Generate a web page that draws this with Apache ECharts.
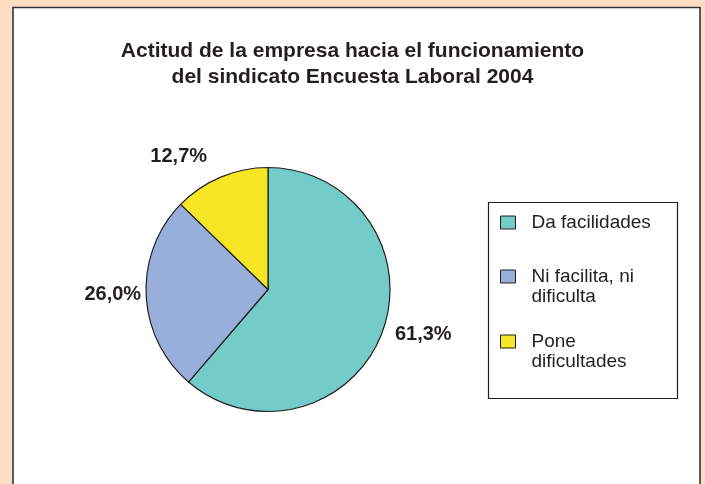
<!DOCTYPE html>
<html>
<head>
<meta charset="utf-8">
<style>
  html, body { margin: 0; padding: 0; background: #fddcc4; }
  #chart { width: 705px; height: 484px; }
</style>
<script src="https://cdn.jsdelivr.net/npm/echarts@6/dist/echarts.min.js"></script>
</head>
<body>
<div id="chart"></div>
<script>
// Survey answers: how the company treats the union's work
const categories = ['Da facilidades', 'Ni facilita, ni dificulta', 'Pone dificultades'];
const shares = [61.3, 26.0, 12.7];
// legend texts split over lines as printed in the key
const legendLines = [['Da facilidades'], ['Ni facilita, ni', 'dificulta'], ['Pone', 'dificultades']];

const sliceColors = ['#74ccc9', '#97afda', '#f7e626'];
const ink = '#231f20';
const font = 'Liberation Sans, Arial, Helvetica, sans-serif';
// how far past the rim each percentage sits
const labelReach = [8, 0, 22];
// top of each legend entry inside the key box
const legendTops = [212.5, 246.5, 311.5];

const pctText = v => v.toFixed(1).replace('.', ',') + '%';

const chart = echarts.init(document.getElementById('chart'), null, { renderer: 'canvas' });

const legends = categories.map((name, i) => ({
  data: [name],
  orient: 'vertical',
  left: 500,
  top: legendTops[i],
  padding: 0,
  selectedMode: false,
  icon: 'rect',
  itemWidth: 15,
  itemHeight: 13,
  itemStyle: { borderColor: ink, borderWidth: 1 },
  formatter: () => (legendLines[i].length > 1 ? '\n' : '') + legendLines[i].join('\n'),
  textStyle: { fontFamily: font, fontSize: 19, lineHeight: 20, color: ink, padding: [0, 0, 0, 11] }
}));

chart.setOption({
  backgroundColor: '#fddcc4',
  animation: false,
  title: {
    text: 'Actitud de la empresa hacia el funcionamiento\ndel sindicato Encuesta Laboral 2004',
    left: 'center',
    top: 38.5,
    padding: [0, 0, 0, 6],
    textStyle: { fontFamily: font, fontSize: 21, fontWeight: 'bold', lineHeight: 25.5, color: ink }
  },
  graphic: {
    elements: [
      {
        type: 'rect', z: -10,
        shape: { x: 13, y: 7.5, width: 687, height: 500 },
        style: { fill: '#ffffff', stroke: '#333333', lineWidth: 1.6 }
      },
      {
        type: 'rect', z: -5,
        shape: { x: 488.5, y: 202.5, width: 189, height: 196 },
        style: { fill: 'none', stroke: ink, lineWidth: 1.2 }
      }
    ]
  },
  legend: legends,
  series: [{
    type: 'pie',
    center: [268, 289.5],
    radius: 122,
    startAngle: 90,
    clockwise: true,
    avoidLabelOverlap: false,
    itemStyle: { borderColor: ink, borderWidth: 1.2 },
    label: {
      show: true,
      position: 'outside',
      fontFamily: font,
      fontSize: 20,
      fontWeight: 'bold',
      color: ink,
      formatter: p => pctText(p.value)
    },
    labelLine: { show: false, length: 8, length2: 0 },
    emphasis: { disabled: true },
    data: categories.map((name, i) => ({
      name,
      value: shares[i],
      itemStyle: { color: sliceColors[i] },
      labelLine: { show: false, length: labelReach[i], length2: 0 }
    }))
  }]
});
</script>
</body>
</html>
